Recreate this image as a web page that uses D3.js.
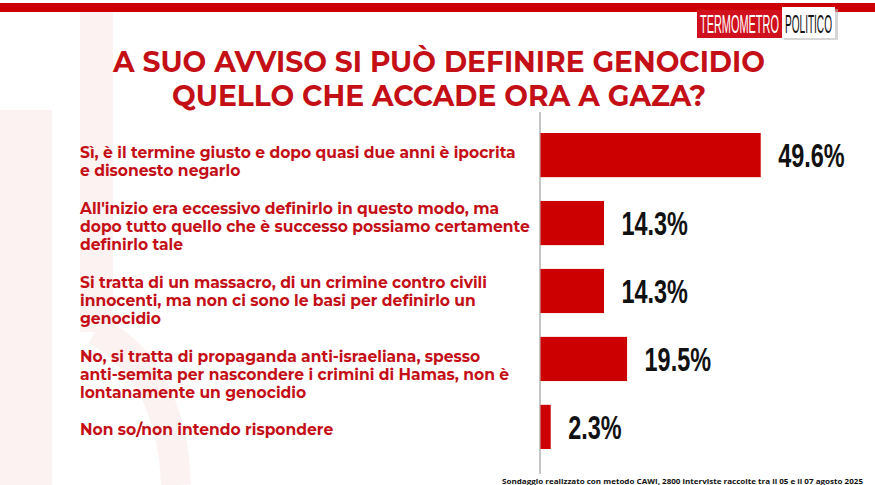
<!DOCTYPE html>
<html><head><meta charset="utf-8">
<script src="https://cdn.jsdelivr.net/npm/d3@7"></script>
<style>html,body{margin:0;padding:0;background:#fff;} svg{display:block}</style>
</head><body><svg id="c" width="875" height="485"></svg>
<script>
const categories = ["A","B","C","D","E"];
const labelLines = [
  ["Sì, è il termine giusto e dopo quasi due anni è ipocrita", "e disonesto negarlo"],
  ["All'inizio era eccessivo definirlo in questo modo, ma", "dopo tutto quello che è successo possiamo certamente", "definirlo tale"],
  ["Si tratta di un massacro, di un crimine contro civili", "innocenti, ma non ci sono le basi per definirlo un", "genocidio"],
  ["No, si tratta di propaganda anti-israeliana, spesso", "anti-semita per nascondere i crimini di Hamas, non è", "lontanamente un genocidio"],
  ["Non so/non intendo rispondere"]
];
const values = [49.6, 14.3, 14.3, 19.5, 2.3];
const valueLabels = ["49.6%", "14.3%", "14.3%", "19.5%", "2.3%"];
const titleLines = ["A SUO AVVISO SI PUÒ DEFINIRE GENOCIDIO", "QUELLO CHE ACCADE ORA A GAZA?"];
const footnote = "Sondaggio realizzato con metodo CAWI, 2800 interviste raccolte tra il 05 e il 07 agosto 2025";
const logoParts = ["TERMOMETRO", "POLITICO"];

const RED = "#cc0000", TXT = "#c40f17";
const svg = d3.select("#c");

// watermark
const wm = svg.append("g").attr("fill", "#fdf2f2");
wm.append("rect").attr("x", 0).attr("y", 110).attr("width", 52).attr("height", 375);
wm.append("rect").attr("x", 80).attr("y", 12).attr("width", 33).attr("height", 320);
svg.append("path").attr("d", "M 96 330 Q 172 372 176 485").attr("fill", "none")
  .attr("stroke", "#fdf2f2").attr("stroke-width", 30);

// top band
svg.append("rect").attr("x", 0).attr("y", 3).attr("width", 875).attr("height", 9).attr("fill", RED);

// logo
const lg = svg.append("g");
lg.append("rect").attr("x", 784).attr("y", 9).attr("width", 54).attr("height", 31).attr("fill", "#bbb").attr("opacity", 0.6);
lg.append("rect").attr("x", 697).attr("y", 10).attr("width", 85).attr("height", 28).attr("fill", "#d0101c");
lg.append("rect").attr("x", 782).attr("y", 7).attr("width", 53).attr("height", 31).attr("fill", "#fff");
function logoText(str, x0, yb, w, h, fill) {
  const t = lg.append("text").attr("font-family", "'Liberation Sans', Arial, sans-serif")
    .attr("font-size", 10).attr("fill", fill).text(str);
  const bw = t.node().getComputedTextLength();
  const sx = w / bw, sy = h / 7.2;
  t.attr("transform", `translate(${x0},${yb}) scale(${sx},${sy})`);
}
logoText(logoParts[0], 700, 33, 79, 18, "#fff");
logoText(logoParts[1], 785, 33, 47, 18, "#111");

// title
const titleWidths = [652, 534];
svg.append("g").selectAll("text").data(titleLines).join("text")
  .attr("x", 439).attr("y", (d, i) => 72 + i * 34)
  .attr("text-anchor", "middle")
  .attr("font-family", "Montserrat, 'Open Sans', sans-serif").attr("font-weight", 700)
  .attr("font-size", 28.5).attr("fill", TXT)
  .attr("textLength", (d, i) => titleWidths[i]).attr("lengthAdjust", "spacingAndGlyphs")
  .text(d => d);

// scales
const x = d3.scaleLinear().domain([0, 50]).range([540, 762]);
const y = d3.scaleBand().domain(categories).range([133, 449]).paddingInner(0.35).paddingOuter(0);

// axis line
svg.append("line").attr("x1", 540).attr("x2", 540).attr("y1", 112).attr("y2", 474)
  .attr("stroke", "#8a8a8a").attr("stroke-width", 1);

// bars
svg.append("g").selectAll("rect").data(values).join("rect")
  .attr("x", x(0) + 0.5).attr("y", (d, i) => y(categories[i]))
  .attr("width", d => x(d) - x(0)).attr("height", y.bandwidth())
  .attr("fill", RED);

// value labels (condensed)
const vg = svg.append("g");
valueLabels.forEach((lab, i) => {
  const tx = x(values[i]) + 18, ty = y(categories[i]) + y.bandwidth() / 2 + 12;
  vg.append("text").attr("transform", `translate(${tx},${ty}) scale(0.7,1)`)
    .attr("font-family", "'Liberation Sans', Arial, sans-serif").attr("font-weight", 700)
    .attr("font-size", 33.5).attr("fill", "#111").text(lab);
});

// category labels
const lgp = svg.append("g").attr("font-family", "Montserrat, 'Open Sans', sans-serif").attr("font-weight", 700).attr("fill", TXT);
let fs = 15;
const probe = lgp.append("text").attr("font-size", fs).text(labelLines[0][0]);
const w0 = probe.node().getComputedTextLength();
probe.remove();
fs = fs * 436 / w0;
const lh = 18.2;
let base = 158;
labelLines.forEach((lines, i) => {
  lines.forEach((ln, j) => {
    lgp.append("text").attr("x", 80).attr("y", base + j * lh).attr("font-size", fs).text(ln);
  });
  base = base + (lines.length - 1) * lh + 37.5;
});

// footnote
svg.append("text").attr("x", 502).attr("y", 484)
  .attr("font-family", "'Open Sans', sans-serif").attr("font-weight", 700).attr("font-size", 7.6)
  .attr("fill", "#111").attr("textLength", 361).attr("lengthAdjust", "spacingAndGlyphs").text(footnote);
</script></body></html>
